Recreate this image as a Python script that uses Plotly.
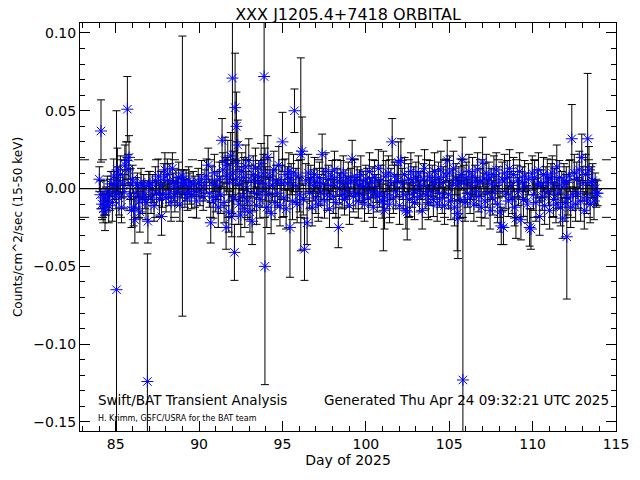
import plotly.graph_objects as go

days = [
    84.02, 84.08, 84.12, 84.18, 84.25, 84.30, 84.36, 84.42, 84.50, 84.58,
    84.65, 84.72, 84.80, 84.88, 84.95, 85.02, 85.05, 85.10, 85.15, 85.20,
    85.28, 85.35, 85.42, 85.50, 85.55, 85.62, 85.70, 85.75, 85.80, 85.85,
    85.90, 85.95, 86.02, 86.08, 86.15, 86.22, 86.30, 86.38, 86.45, 86.52,
    86.60, 86.68, 86.75, 86.82, 86.90, 86.93, 86.98, 87.05, 87.12, 87.20,
    87.30, 87.38, 87.45, 87.55, 87.62, 87.70, 87.75, 87.80, 87.88, 87.95,
    88.02, 88.10, 88.18, 88.25, 88.32, 88.40, 88.48, 88.55, 88.62, 88.70,
    88.78, 88.85, 88.92, 89.00, 89.08, 89.15, 89.22, 89.30, 89.38, 89.45,
    89.55, 89.65, 89.75, 89.85, 89.95, 90.05, 90.15, 90.25, 90.35, 90.45,
    90.55, 90.62, 90.70, 90.78, 90.85, 90.92, 91.00, 91.08, 91.15, 91.22,
    91.30, 91.38, 91.42, 91.50, 91.56, 91.62, 91.66, 91.72, 91.78, 91.84,
    91.90, 91.96, 92.00, 92.04, 92.08, 92.12, 92.16, 92.20, 92.24, 92.28,
    92.32, 92.38, 92.44, 92.50, 92.56, 92.62, 92.68, 92.74, 92.80, 92.86,
    92.92, 92.98, 93.05, 93.12, 93.18, 93.25, 93.32, 93.38, 93.45, 93.52,
    93.58, 93.65, 93.72, 93.78, 93.85, 93.90, 93.95, 94.00, 94.06, 94.12,
    94.18, 94.25, 94.32, 94.40, 94.48, 94.55, 94.62, 94.70, 94.78, 94.85,
    94.92, 95.00, 95.08, 95.15, 95.22, 95.30, 95.38, 95.45, 95.52, 95.60,
    95.66, 95.72, 95.80, 95.88, 95.95, 96.02, 96.10, 96.18, 96.25, 96.32,
    96.40, 96.48, 96.55, 96.62, 96.70, 96.78, 96.85, 96.92, 97.00, 97.08,
    97.15, 97.22, 97.30, 97.38, 97.45, 97.52, 97.60, 97.68, 97.75, 97.82,
    97.90, 97.98, 98.05, 98.12, 98.20, 98.28, 98.35, 98.42, 98.50, 98.58,
    98.65, 98.72, 98.80, 98.88, 98.95, 99.02, 99.10, 99.18, 99.25, 99.32,
    99.40, 99.48, 99.55, 99.62, 99.70, 99.78, 99.85, 99.92, 100.00, 100.08,
    100.15, 100.22, 100.30, 100.38, 100.45, 100.52, 100.60, 100.68, 100.75, 100.82,
    100.90, 100.98, 101.05, 101.12, 101.20, 101.28, 101.35, 101.42, 101.50, 101.58,
    101.65, 101.72, 101.80, 101.88, 101.95, 102.02, 102.10, 102.18, 102.25, 102.32,
    102.40, 102.48, 102.55, 102.62, 102.70, 102.78, 102.85, 102.92, 103.00, 103.08,
    103.15, 103.22, 103.30, 103.38, 103.45, 103.52, 103.60, 103.68, 103.75, 103.82,
    103.90, 103.98, 104.05, 104.12, 104.20, 104.28, 104.35, 104.42, 104.50, 104.58,
    104.65, 104.72, 104.80, 104.88, 104.95, 105.02, 105.10, 105.18, 105.25, 105.32,
    105.40, 105.48, 105.52, 105.58, 105.65, 105.72, 105.78, 105.82, 105.88, 105.95,
    106.02, 106.10, 106.18, 106.25, 106.32, 106.40, 106.48, 106.55, 106.62, 106.70,
    106.78, 106.85, 106.92, 107.00, 107.08, 107.15, 107.22, 107.30, 107.38, 107.45,
    107.52, 107.60, 107.68, 107.75, 107.82, 107.90, 107.98, 108.05, 108.12, 108.18,
    108.25, 108.32, 108.40, 108.48, 108.55, 108.62, 108.70, 108.78, 108.85, 108.92,
    109.00, 109.08, 109.15, 109.22, 109.30, 109.38, 109.45, 109.52, 109.60, 109.68,
    109.75, 109.82, 109.90, 109.98, 110.05, 110.12, 110.20, 110.28, 110.35, 110.42,
    110.50, 110.58, 110.65, 110.72, 110.80, 110.88, 110.95, 111.02, 111.10, 111.18,
    111.25, 111.32, 111.40, 111.45, 111.52, 111.60, 111.68, 111.75, 111.80, 111.88,
    111.95, 112.02, 112.05, 112.12, 112.20, 112.28, 112.35, 112.42, 112.50, 112.58,
    112.65, 112.72, 112.80, 112.88, 112.95, 113.02, 113.10, 113.18, 113.25, 113.30,
    113.38, 113.45, 113.52, 113.60, 113.68, 113.75, 113.82, 113.90,
]

rates = [
    0.006, -0.004, 0.037, -0.010, -0.013, -0.006, -0.015, -0.008, -0.002, -0.011,
    -0.004, 0.003, -0.009, 0.008, 0.002, -0.003, -0.065, 0.012, 0.005, -0.006,
    0.009, -0.012, 0.003, -0.002, 0.015, 0.018, 0.051, 0.012, 0.020, -0.005,
    0.003, -0.014, 0.006, -0.012, -0.020, -0.003, 0.002, -0.008, -0.015, 0.004,
    -0.006, 0.001, -0.004, -0.009, -0.124, -0.021, 0.002, 0.003, -0.006, 0.000,
    -0.011, 0.005, -0.003, 0.008, -0.007, 0.002, -0.018, -0.004, 0.006, 0.012,
    -0.006, 0.009, -0.003, 0.005, -0.009, 0.013, 0.001, -0.005, 0.004, -0.002,
    0.007, -0.010, 0.003, 0.008, 0.004, -0.003, 0.002, -0.006, 0.005, 0.000,
    -0.004, 0.003, -0.002, -0.008, 0.004, -0.001, 0.006, -0.005, 0.002, 0.008,
    0.015, -0.003, -0.022, 0.004, -0.008, 0.010, -0.005, 0.002, -0.012, 0.006,
    -0.004, 0.031, 0.012, -0.009, 0.018, -0.025, 0.008, 0.015, -0.015, 0.004,
    0.021, -0.018, 0.071, 0.010, -0.006, -0.041, 0.052, 0.006, 0.040, 0.016,
    0.028, -0.010, 0.003, -0.017, 0.011, -0.005, 0.007, -0.013, 0.014, 0.000,
    -0.008, 0.018, -0.015, 0.005, -0.021, 0.009, -0.003, 0.013, -0.011, 0.004,
    0.007, -0.007, 0.016, -0.002, 0.010, 0.072, -0.050, 0.003, -0.012, 0.020,
    -0.004, 0.008, -0.016, 0.002, 0.012, -0.009, 0.005, -0.003, 0.015, -0.011,
    0.004, 0.030, -0.006, 0.009, -0.013, 0.003, 0.011, -0.025, 0.006, -0.008,
    0.010, 0.050, 0.002, -0.010, 0.008, -0.004, 0.022, 0.024, -0.007, -0.039,
    0.005, -0.022, 0.010, -0.003, 0.006, -0.012, 0.002, 0.009, -0.006, 0.004,
    -0.010, 0.007, -0.002, 0.022, 0.003, -0.008, 0.011, -0.004, 0.006, -0.013,
    0.002, 0.008, -0.005, 0.012, -0.009, 0.004, -0.025, 0.000, 0.007, -0.004,
    0.010, -0.007, 0.003, -0.002, 0.006, -0.011, 0.004, 0.019, -0.005, 0.008,
    -0.003, 0.005, -0.008, 0.002, 0.009, -0.004, 0.001, -0.010, 0.006, 0.003,
    -0.006, 0.011, -0.002, 0.004, -0.012, 0.007, 0.000, -0.005, 0.013, -0.003,
    0.005, -0.008, -0.008, -0.014, 0.008, -0.004, 0.010, -0.010, 0.003, 0.030,
    -0.006, 0.008, -0.002, 0.005, 0.017, -0.011, 0.018, 0.003, -0.004, 0.009,
    -0.014, -0.015, 0.006, -0.007, 0.011, -0.003, 0.004, -0.009, 0.007, -0.001,
    0.010, -0.005, 0.002, -0.014, 0.006, 0.013, -0.004, 0.000, -0.009, 0.008,
    -0.002, 0.005, -0.007, 0.011, 0.003, -0.010, 0.007, -0.003, 0.012, -0.006,
    0.004, -0.011, 0.008, 0.018, -0.004, 0.010, -0.008, 0.002, 0.013, -0.012,
    0.006, -0.016, -0.019, 0.003, -0.007, 0.009, 0.019, -0.123, 0.004, -0.009,
    0.007, -0.003, 0.011, -0.006, 0.002, 0.008, -0.010, 0.005, -0.002, 0.012,
    -0.005, 0.004, -0.012, 0.017, 0.006, -0.008, 0.010, -0.003, 0.007, -0.014,
    0.003, -0.006, 0.009, -0.001, 0.012, -0.010, 0.004, -0.015, -0.024, 0.006,
    -0.025, 0.010, -0.003, 0.007, -0.008, 0.013, 0.002, -0.006, 0.009, -0.012,
    -0.019, 0.005, -0.002, 0.011, -0.020, 0.004, -0.007, 0.008, 0.001, -0.010,
    0.006, -0.025, -0.026, 0.010, -0.004, 0.007, -0.009, 0.003, 0.012, -0.018,
    0.002, -0.005, 0.009, -0.011, 0.004, 0.008, -0.002, -0.014, 0.006, 0.010,
    -0.007, 0.003, -0.010, 0.014, -0.003, 0.007, -0.012, 0.001, -0.019, 0.005,
    -0.009, 0.004, -0.031, -0.006, 0.008, -0.012, 0.032, -0.004, 0.010, -0.010,
    0.006, -0.003, 0.012, -0.008, 0.020, 0.003, -0.014, 0.009, -0.006, 0.032,
    0.012, -0.010, 0.004, 0.005, -0.008, 0.000, -0.003, -0.003,
]

errors = [
    0.008, 0.009, 0.020, 0.010, 0.009, 0.011, 0.012, 0.009, 0.010, 0.011,
    0.010, 0.008, 0.012, 0.011, 0.009, 0.010, 0.115, 0.014, 0.009, 0.011,
    0.012, 0.010, 0.009, 0.011, 0.013, 0.012, 0.021, 0.010, 0.014, 0.009,
    0.010, 0.011, 0.009, 0.012, 0.015, 0.010, 0.008, 0.011, 0.013, 0.009,
    0.010, 0.008, 0.009, 0.011, 0.082, 0.014, 0.009, 0.008, 0.010, 0.009,
    0.010, 0.009, 0.008, 0.011, 0.010, 0.009, 0.012, 0.008, 0.010, 0.011,
    0.009, 0.010, 0.008, 0.011, 0.012, 0.010, 0.009, 0.010, 0.008, 0.009,
    0.010, 0.011, 0.009, 0.090, 0.008, 0.009, 0.010, 0.008, 0.009, 0.010,
    0.009, 0.008, 0.010, 0.011, 0.009, 0.010, 0.012, 0.009, 0.010, 0.011,
    0.011, 0.009, 0.013, 0.010, 0.011, 0.012, 0.010, 0.009, 0.013, 0.011,
    0.012, 0.014, 0.011, 0.013, 0.015, 0.014, 0.012, 0.016, 0.013, 0.012,
    0.015, 0.013, 0.087, 0.014, 0.012, 0.018, 0.035, 0.013, 0.022, 0.014,
    0.016, 0.013, 0.011, 0.014, 0.012, 0.010, 0.013, 0.012, 0.014, 0.011,
    0.012, 0.014, 0.013, 0.010, 0.015, 0.012, 0.011, 0.013, 0.012, 0.010,
    0.011, 0.012, 0.013, 0.010, 0.012, 0.060, 0.076, 0.011, 0.013, 0.014,
    0.011, 0.012, 0.013, 0.010, 0.012, 0.011, 0.010, 0.009, 0.012, 0.013,
    0.011, 0.019, 0.012, 0.010, 0.013, 0.011, 0.012, 0.032, 0.010, 0.012,
    0.012, 0.014, 0.011, 0.012, 0.010, 0.011, 0.062, 0.022, 0.010, 0.020,
    0.011, 0.014, 0.012, 0.010, 0.009, 0.012, 0.010, 0.011, 0.010, 0.009,
    0.011, 0.010, 0.009, 0.013, 0.010, 0.011, 0.012, 0.010, 0.009, 0.012,
    0.009, 0.010, 0.011, 0.012, 0.010, 0.009, 0.013, 0.010, 0.011, 0.009,
    0.011, 0.010, 0.009, 0.010, 0.011, 0.012, 0.009, 0.012, 0.010, 0.011,
    0.010, 0.009, 0.011, 0.010, 0.012, 0.009, 0.010, 0.011, 0.009, 0.010,
    0.010, 0.012, 0.009, 0.010, 0.013, 0.011, 0.009, 0.010, 0.012, 0.009,
    0.010, 0.011, 0.032, 0.012, 0.010, 0.009, 0.011, 0.012, 0.010, 0.015,
    0.010, 0.009, 0.011, 0.010, 0.013, 0.012, 0.014, 0.010, 0.009, 0.011,
    0.012, 0.018, 0.010, 0.011, 0.012, 0.009, 0.010, 0.011, 0.010, 0.009,
    0.011, 0.010, 0.009, 0.012, 0.010, 0.012, 0.009, 0.010, 0.011, 0.010,
    0.009, 0.010, 0.011, 0.012, 0.009, 0.011, 0.010, 0.009, 0.012, 0.010,
    0.010, 0.012, 0.011, 0.013, 0.009, 0.011, 0.012, 0.010, 0.011, 0.012,
    0.010, 0.024, 0.026, 0.011, 0.012, 0.010, 0.014, 0.115, 0.011, 0.012,
    0.010, 0.009, 0.011, 0.010, 0.009, 0.012, 0.011, 0.010, 0.009, 0.011,
    0.010, 0.009, 0.012, 0.016, 0.010, 0.011, 0.012, 0.009, 0.010, 0.012,
    0.010, 0.011, 0.012, 0.009, 0.011, 0.012, 0.010, 0.013, 0.012, 0.011,
    0.011, 0.012, 0.010, 0.011, 0.010, 0.012, 0.009, 0.010, 0.011, 0.012,
    0.013, 0.010, 0.009, 0.012, 0.013, 0.010, 0.011, 0.010, 0.009, 0.012,
    0.010, 0.012, 0.013, 0.011, 0.010, 0.011, 0.012, 0.009, 0.011, 0.012,
    0.010, 0.009, 0.011, 0.012, 0.010, 0.011, 0.009, 0.012, 0.010, 0.011,
    0.011, 0.010, 0.012, 0.014, 0.010, 0.011, 0.012, 0.010, 0.013, 0.011,
    0.012, 0.010, 0.040, 0.011, 0.010, 0.013, 0.022, 0.010, 0.012, 0.011,
    0.011, 0.010, 0.012, 0.013, 0.015, 0.011, 0.012, 0.013, 0.010, 0.042,
    0.015, 0.012, 0.010, 0.011, 0.012, 0.010, 0.009, 0.008,
]

title_text = "XXX J1205.4+7418 ORBITAL"
x_title = "Day of 2025"
y_title = "Counts/cm^2/sec (15-50 keV)"
note_left = "Swift/BAT Transient Analysis"
note_right = "Generated Thu Apr 24 09:32:21 UTC 2025"
note_credit = "H. Krimm, GSFC/USRA for the BAT team"
sigma_level = 0.0185
x_range = [82.86, 115.0]
y_range = [-0.1558, 0.1064]

assert len(days) == len(rates) == len(errors), (len(days), len(rates), len(errors))

FONT = "DejaVu Sans"

fig = go.Figure()

fig.add_trace(go.Scatter(
    x=days, y=rates, mode="markers",
    marker=dict(symbol="asterisk-open", size=10, color="#0000ff",
                line=dict(color="#0000ff", width=1)),
    error_y=dict(type="data", array=errors, visible=True,
                 color="black", thickness=1, width=4),
    showlegend=False, hoverinfo="skip",
))

for yv, dash in [(0.0, "solid"), (sigma_level, "dash"), (-sigma_level, "dash")]:
    fig.add_shape(type="line", xref="paper", x0=0, x1=1, yref="y", y0=yv, y1=yv,
                  line=dict(color="black", width=1.2 if dash == "solid" else 1, dash=dash),
                  layer="above")

axis_common = dict(
    showgrid=False, zeroline=False, showline=True, linecolor="black", linewidth=1,
    mirror="ticks", ticks="inside", ticklen=10, tickcolor="black", tickwidth=1,
    tickfont=dict(family=FONT, size=14, color="black"),
)

fig.update_xaxes(range=x_range, dtick=5, tick0=85,
                 minor=dict(dtick=1, ticklen=5, ticks="inside", tickcolor="black"),
                 title=dict(text=x_title, font=dict(family=FONT, size=14, color="black"), standoff=2),
                 **axis_common)
fig.update_yaxes(range=y_range, dtick=0.05, tick0=0, tickformat=".2f",
                 minor=dict(dtick=0.01, ticklen=5, ticks="inside", tickcolor="black"),
                 title=dict(text=y_title, font=dict(family=FONT, size=12, color="black"), standoff=8),
                 **axis_common)

fig.add_annotation(text=note_left, xref="paper", yref="paper", x=0.03, y=0.075,
                   xanchor="left", yanchor="middle", showarrow=False,
                   font=dict(family=FONT, size=13.5, color="black"))
fig.add_annotation(text=note_right, xref="paper", yref="paper", x=0.99, y=0.075,
                   xanchor="right", yanchor="middle", showarrow=False,
                   font=dict(family=FONT, size=13.5, color="black"))
fig.add_annotation(text=note_credit, xref="paper", yref="paper", x=0.03, y=0.03,
                   xanchor="left", yanchor="middle", showarrow=False,
                   font=dict(family=FONT, size=8, color="black"))

fig.update_layout(
    width=640, height=480,
    margin=dict(l=80, r=24, t=23, b=49),
    paper_bgcolor="white", plot_bgcolor="white",
    title=dict(text=title_text, x=348 / 640, xanchor="center", y=1 - 14 / 480, yanchor="middle",
               font=dict(family=FONT, size=16, color="black")),
)

fig.write_html("out.html", config={"displayModeBar": False},
               post_script="document.body.style.margin='0';")
